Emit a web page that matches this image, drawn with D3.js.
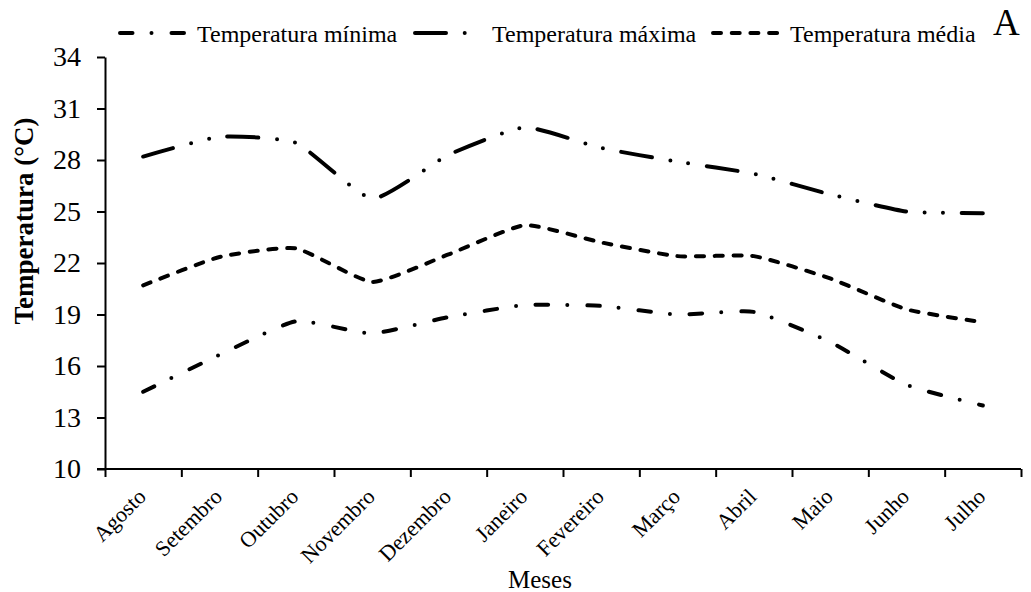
<!DOCTYPE html>
<html>
<head>
<meta charset="utf-8">
<script src="https://cdn.jsdelivr.net/npm/d3@7"></script>
<style>
  html, body { margin: 0; padding: 0; background: #fff; }
  svg { display: block; font-family: "Liberation Serif", "Times New Roman", serif; }
</style>
</head>
<body>
<svg id="chart" width="1031" height="592"></svg>
<script>
// Monthly temperature series (°C)
const months = ["Agosto", "Setembro", "Outubro", "Novembro", "Dezembro", "Janeiro",
                "Fevereiro", "Março", "Abril", "Maio", "Junho", "Julho"];
const tempMin   = [14.5, 16.65, 18.6, 17.9, 18.85, 19.55, 19.5, 19.0, 19.15, 17.4, 14.9, 13.7];
const tempMax   = [28.2, 29.35, 29.0, 25.75, 28.3, 29.9, 28.7, 27.9, 27.2, 26.0, 25.0, 24.9];
const tempMedia = [20.7, 22.35, 22.85, 20.9, 22.5, 24.2, 23.2, 22.4, 22.4, 21.1, 19.3, 18.55];
const yTicks = [10, 13, 16, 19, 22, 25, 28, 31, 34];

const series = [
  { name: "Temperatura mínima", values: tempMin,   dash: "12.5 19 0 20" },
  { name: "Temperatura máxima", values: tempMax,   dash: "31 18.7 0 18.3 0 18.7" },
  { name: "Temperatura média",  values: tempMedia, dash: "8 10.7" }
];

const svg = d3.select("#chart");
const plotLeft = 105, plotRight = 1021, plotTop = 57, plotBottom = 469;

const x = d3.scaleBand().domain(months).range([plotLeft, plotRight]).padding(0);
const xEdge = d3.scaleLinear().domain([0, months.length]).range([plotLeft, plotRight]);
const y = d3.scaleLinear().domain([10, 34]).range([plotBottom, plotTop]);

// Y axis
const yAxis = svg.append("g")
  .attr("transform", `translate(${plotLeft},0)`)
  .call(d3.axisLeft(y).tickValues(yTicks).tickSize(8).tickPadding(16).tickSizeOuter(0));
yAxis.select(".domain").attr("stroke", "#000").attr("stroke-width", 2);
yAxis.selectAll(".tick line").attr("stroke", "#000").attr("stroke-width", 2);
yAxis.selectAll(".tick text")
  .attr("font-size", 28).attr("fill", "#000")
  .attr("font-family", "'Liberation Serif', 'Times New Roman', serif");

// X axis: ticks sit on the category boundaries
const xAxis = svg.append("g")
  .attr("transform", `translate(0,${plotBottom})`)
  .call(d3.axisBottom(xEdge).tickValues(d3.range(months.length + 1)).tickSize(8)
        .tickFormat("").tickSizeOuter(0));
xAxis.select(".domain").attr("stroke", "#000").attr("stroke-width", 2)
  .attr("d", `M${plotLeft - 8},0H${plotRight}`);
xAxis.selectAll(".tick line").attr("stroke", "#000").attr("stroke-width", 2);

// Rotated month labels
svg.append("g").selectAll("text")
  .data(months)
  .join("text")
  .attr("transform", d => `translate(${x(d) + x.bandwidth() / 2 + 4},${plotBottom + 29}) rotate(-45)`)
  .attr("text-anchor", "end")
  .attr("font-size", 22)
  .attr("fill", "#000")
  .text(d => d);

// Axis titles
svg.append("text")
  .attr("x", 540).attr("y", 588)
  .attr("text-anchor", "middle")
  .attr("font-size", 25)
  .text("Meses");

svg.append("text")
  .attr("transform", "translate(33,221) rotate(-90)")
  .attr("text-anchor", "middle")
  .attr("font-size", 27)
  .attr("font-weight", "bold")
  .text("Temperatura (°C)");

// Lines, lightly smoothed
const line = d3.line()
  .x((d, i) => x(months[i]) + x.bandwidth() / 2)
  .y(d => y(d))
  .curve(d3.curveCardinal.tension(0.5));

svg.append("g").selectAll("path")
  .data(series)
  .join("path")
  .attr("d", s => line(s.values))
  .attr("fill", "none")
  .attr("stroke", "#000")
  .attr("stroke-width", 4)
  .attr("stroke-linecap", "round")
  .attr("stroke-dasharray", s => s.dash);

// Legend
const legendX = [120, 415, 713];
const legend = svg.append("g").selectAll("g")
  .data(series)
  .join("g")
  .attr("transform", (s, i) => `translate(${legendX[i]},33)`);
legend.append("line")
  .attr("x1", 0).attr("x2", 68).attr("y1", 0).attr("y2", 0)
  .attr("stroke", "#000").attr("stroke-width", 4)
  .attr("stroke-linecap", "round")
  .attr("stroke-dasharray", s => s.dash);
legend.append("text")
  .attr("x", 77).attr("y", 9)
  .attr("font-size", 24)
  .text(s => s.name);

// Panel letter
svg.append("text")
  .attr("x", 993).attr("y", 35)
  .attr("font-size", 37)
  .text("A");
</script>
</body>
</html>
